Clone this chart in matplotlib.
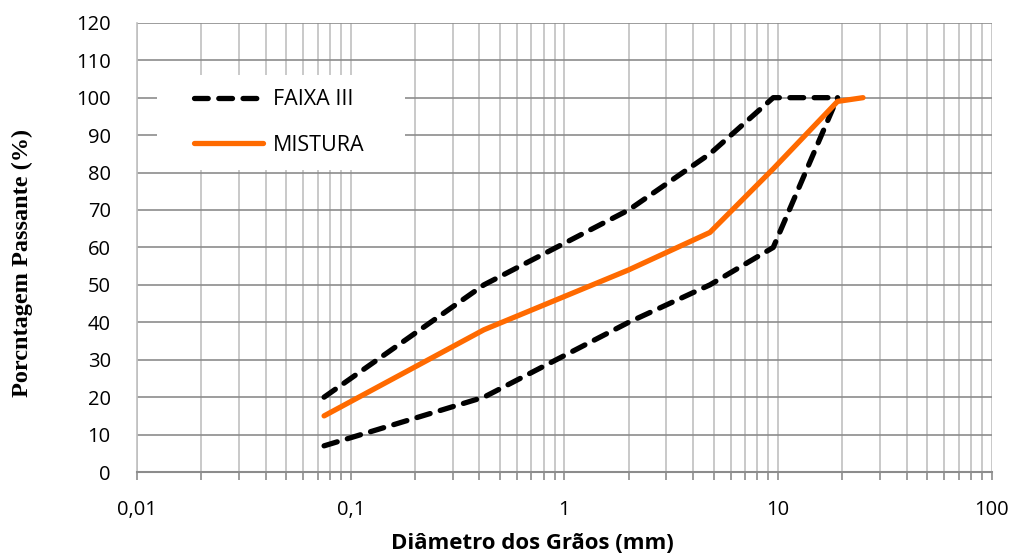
import matplotlib.pyplot as plt
from matplotlib.patches import Rectangle
from matplotlib.ticker import LogLocator, FixedLocator, NullFormatter

# Dados da curva granulométrica
peneiras = [0.075, 0.42, 2.0, 4.8, 9.5, 19.0]
faixa_sup = [20, 50, 70, 85, 100, 100]
faixa_inf = [7, 20, 40, 50, 60, 100]

peneiras_mist = [0.075, 0.42, 2.0, 4.8, 9.5, 19.0, 25.0]
mistura = [15, 38, 54, 64, 81, 99, 100]

x_ticks = [0.01, 0.1, 1, 10, 100]
x_labels = ["0,01", "0,1", "1", "10", "100"]

plt.rcParams['font.family'] = ['Open Sans', 'DejaVu Sans']

fig = plt.figure(figsize=(10.16, 5.56), dpi=100)
ax = fig.add_axes([0.135, 0.151, 0.841, 0.808])

ax.plot(peneiras, faixa_sup, color='black', lw=3.8, ls=(0, (2.6, 2.0)),
        dash_capstyle='round', label='FAIXA III', zorder=3)
ax.plot(peneiras, faixa_inf, color='black', lw=3.8, ls=(0, (2.6, 2.0)),
        dash_capstyle='round', zorder=3)
ax.plot(peneiras_mist, mistura, color='#ff6a00', lw=3.8,
        solid_capstyle='round', label='MISTURA', zorder=4)

ax.set_xscale('log')
ax.set_xlim(0.01, 100)
ax.set_ylim(0, 120)
ax.set_yticks(range(0, 121, 10))
ax.xaxis.set_major_locator(FixedLocator(x_ticks))
ax.set_xticklabels(x_labels)
ax.xaxis.set_minor_locator(LogLocator(base=10, subs=range(2, 10)))
ax.xaxis.set_minor_formatter(NullFormatter())

ax.grid(True, axis='x', which='both', color='#c0c0c0', lw=1.2)
ax.grid(True, axis='y', which='major', color='#8c8c8c', lw=1.2)
ax.set_axisbelow(True)

for s in ['top', 'right']:
    ax.spines[s].set_visible(False)
ax.spines['left'].set_color('#c0c0c0')
ax.spines['left'].set_linewidth(1.2)
ax.spines['bottom'].set_color('#8c8c8c')
ax.spines['bottom'].set_linewidth(1.5)

ax.tick_params(axis='y', length=0, labelsize=14.5, pad=19)
ax.tick_params(axis='x', which='both', length=6, color='#8c8c8c', width=1.2,
               direction='out', labelsize=14.5, pad=14)

ax.set_xlabel('Diâmetro dos Grãos (mm)', fontsize=16, fontweight='bold')
ax.xaxis.set_label_coords(0.463, -0.135)
ax.set_ylabel('Porcntagem Passante (%)', fontsize=17.5, fontweight='bold',
              family='Liberation Serif')
ax.yaxis.set_label_coords(-0.122, 0.466)

# caixa branca da legenda
ax.add_patch(Rectangle((0.0234, 0.673), 0.29, 0.211, transform=ax.transAxes,
                       facecolor='white', edgecolor='none', zorder=2))
leg = ax.legend(loc='upper left', bbox_to_anchor=(0.054, 0.876), fontsize=15.5,
                frameon=False, handlelength=3.2, labelspacing=1.15,
                borderpad=0, handletextpad=0.45)

fig.savefig('out.png', dpi=100)
